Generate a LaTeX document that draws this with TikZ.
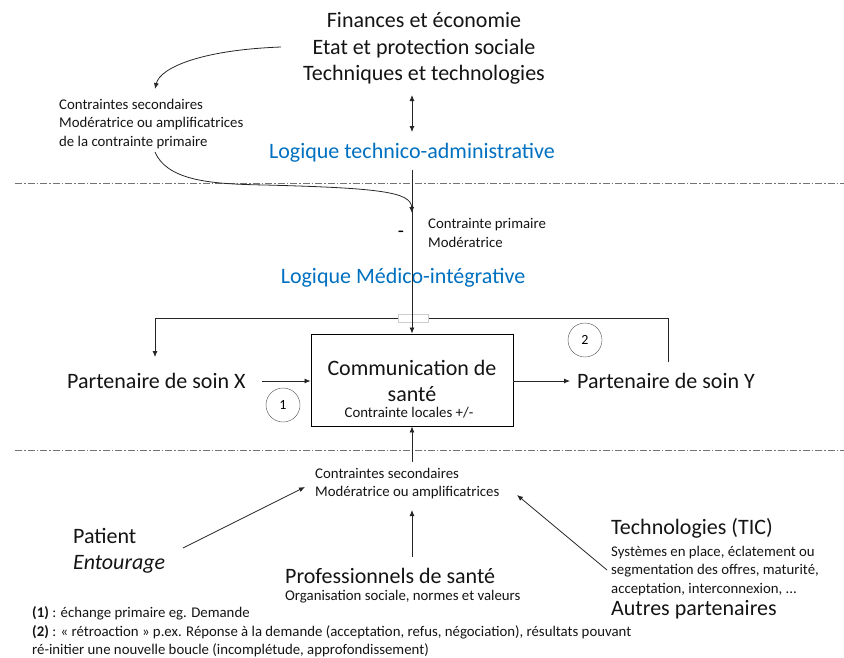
\documentclass[tikz,border=0pt]{standalone}
\usepackage{fontspec}
\setmainfont{Carlito}
\usetikzlibrary{arrows.meta}
\definecolor{lblue}{RGB}{0,112,192}
\definecolor{txt}{RGB}{20,20,20}
\tikzset{
  big/.style={font=\fontsize{22}{26.5}\selectfont, text=txt, inner sep=0pt},
  small/.style={font=\fontsize{14.8}{18.6}\selectfont, text=txt, inner sep=0pt, align=left},
  blue/.style={font=\fontsize{22}{26.5}\selectfont, text=lblue, inner sep=0pt},
  conn/.style={draw=black!85, line width=0.8pt, -{Latex[length=6pt,width=5pt]}},
  sep/.style={draw=black!55, line width=0.8pt, dash pattern=on 7pt off 2pt on 1.5pt off 2pt},
  numc/.style={draw=black!70, circle, minimum size=34pt, inner sep=0pt, font=\fontsize{14}{16}\selectfont},
}
\begin{document}
\begin{tikzpicture}[x=1pt,y=-1pt]
\useasboundingbox (0,0) rectangle (844,657);
% top text
\node[big, align=center] (top) at (424,48.5) {Finances et économie\\Etat et protection sociale\\Techniques et technologies};
\coordinate (arrTop) at (412,95);
\coordinate (arrBot) at (412,132);
\node[blue] (ltech) at (412,153) {Logique technico-administrative};
\draw[conn, {Latex[length=6pt,width=5pt]}-{Latex[length=6pt,width=5pt]}] (arrTop) -- (arrBot);
% separators
\coordinate (s1a) at (15,183); \coordinate (s1b) at (844,183);
\coordinate (s2a) at (15,450); \coordinate (s2b) at (844,450);
\draw[sep] (s1a) -- (s1b);
\draw[sep] (s2a) -- (s2b);
% left secondary constraints
\node[small, anchor=west] (csec1) at (59,124) {Contraintes secondaires\\Modératrice ou amplificatrices\\de la contrainte primaire};
\coordinate (c1s) at (281,47);
\coordinate (c1e) at (155,89);
\draw[conn] (c1s) .. controls (200,50) and (160,68) .. (c1e);
\coordinate (c2s) at (155,152);
\coordinate (c2e) at (412,213);
\draw[conn] (c2s) .. controls (168,182) and (215,184) .. (265,185) .. controls (380,188) and (411,192) .. (c2e);
% primary
\node[small, anchor=west] (cprim) at (428,233) {Contrainte primaire\\Modératrice};
\node[font=\fontsize{20}{22}\selectfont, inner sep=0pt] (minus) at (401,234) {-};
\node[blue] (lmed) at (403,278) {Logique Médico-intégrative};
% central box
\node[draw=black, line width=0.9pt, minimum width=202pt, minimum height=92pt, inner sep=0pt] (box) at (412,380) {};
\node[big, align=center] (btxt) at (412,381) {Communication de\\santé};
\node[small] (bsub) at (409,413) {Contrainte locales +/-};
% feedback loop
\coordinate (fbY) at (668,362);
\coordinate (fbR) at (668,318);
\coordinate (fbL) at (155,318);
\coordinate (fbX) at (155,357);
\draw[conn] (fbY) -- (fbR) -- (fbL) -- (fbX);
\node[draw=black!20, fill=white, minimum width=30pt, minimum height=8pt, inner sep=0pt] (bridge) at (413,318) {};
\draw[conn] (ltech.south -| box.north) ++(0,7) -- (box.north);
% partners
\node[big, anchor=west] (px) at (67,381) {Partenaire de soin X};
\node[big, anchor=west] (py) at (577,381) {Partenaire de soin Y};
\coordinate (pxa) at (262,381);
\draw[conn] (pxa) -- (box.west |- pxa);
\coordinate (pya) at (570,381);
\draw[conn] (box.east |- pya) -- (pya);
\node[numc] (n1) at (283,405) {1};
\node[numc] (n2) at (585,340) {2};
% bottom
\coordinate (lowS) at (412,462);
\draw[conn] (lowS) -- (box.south);
\node[small, anchor=west] (csec2) at (315,483.5) {Contraintes secondaires\\Modératrice ou amplificatrices};
\node[big, anchor=west, align=left] (pat) at (73,551) {Patient\\\itshape Entourage};
\node[big, anchor=west] (prof) at (285,576) {Professionnels de santé};
\node[small, anchor=west] (profs) at (285,597) {Organisation sociale, normes et valeurs};
\node[big, anchor=west] (tech) at (611,528) {Technologies (TIC)};
\node[small, anchor=west] (techs) at (611,571) {Systèmes en place, éclatement ou\\segmentation des offres, maturité,\\acceptation, interconnexion, ...};
\node[big, anchor=west] (autres) at (611,610) {Autres partenaires};
\coordinate (patA) at (183,548);
\coordinate (patB) at (305,487);
\draw[conn] (patA) -- (patB);
\coordinate (profA) at (412,557);
\coordinate (profB) at (412,510);
\draw[conn] (profA) -- (profB);
\coordinate (techA) at (607,570);
\coordinate (techB) at (517,495);
\draw[conn] (techA) -- (techB);
% footnotes
\node[small, anchor=west] (fn) at (32,632) {\textbf{(1)} : échange primaire eg. Demande\\\textbf{(2)} : « rétroaction » p.ex. Réponse à la demande (acceptation, refus, négociation), résultats pouvant\\ré-initier une nouvelle boucle (incomplétude, approfondissement)};
\end{tikzpicture}
\end{document}
